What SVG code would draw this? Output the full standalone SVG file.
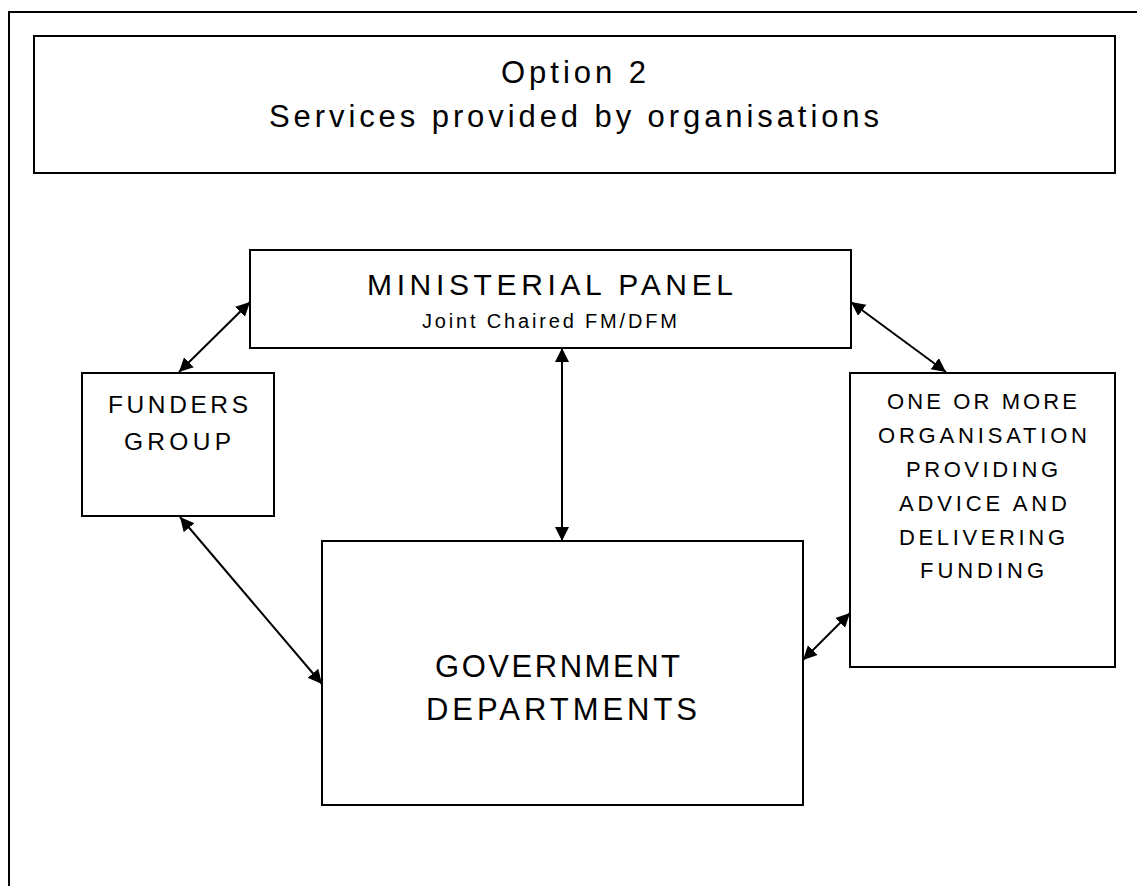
<svg xmlns="http://www.w3.org/2000/svg" width="1137" height="886" viewBox="0 0 1137 886">
<defs>
<style>
.box{fill:#fff;stroke:#000;stroke-width:2}
.t{font-family:"Liberation Sans",Arial,sans-serif;fill:#000;text-anchor:start}
.conn{stroke:#000;stroke-width:2;fill:none;marker-start:url(#ah);marker-end:url(#ah)}
</style>
<marker id="ah" markerUnits="userSpaceOnUse" markerWidth="15" markerHeight="15" refX="14" refY="7" orient="auto-start-reverse">
<path d="M0,0 L14,7 L0,14 Z" fill="#000"/>
</marker>
</defs>
<rect width="1137" height="886" fill="#fff"/>
<rect x="9" y="12" width="1140" height="890" fill="none" stroke="#000" stroke-width="2"/>
<g id="title">
<rect class="box" x="34" y="36" width="1081" height="137"/>
<text class="t" x="501" y="83" font-size="31" textLength="145" lengthAdjust="spacing">Option 2</text>
<text class="t" x="269" y="127" font-size="31" textLength="610" lengthAdjust="spacing">Services provided by organisations</text>
</g>
<g id="connectors">
<line class="conn" x1="179" y1="372" x2="250" y2="302"/>
<line class="conn" x1="851" y1="302" x2="946" y2="372"/>
<line class="conn" x1="562" y1="348" x2="562" y2="541"/>
<line class="conn" x1="180" y1="517" x2="322" y2="684"/>
<line class="conn" x1="850" y1="613" x2="803" y2="660"/>
</g>
<g id="ministerial-panel">
<rect class="box" x="250" y="250" width="601" height="98"/>
<text class="t" x="367" y="295" font-size="30" textLength="366" lengthAdjust="spacing">MINISTERIAL PANEL</text>
<text class="t" x="422" y="328" font-size="20" textLength="255" lengthAdjust="spacing">Joint Chaired FM/DFM</text>
</g>
<g id="funders-group">
<rect class="box" x="82" y="373" width="192" height="143"/>
<text class="t" x="108" y="413" font-size="24.5" textLength="140" lengthAdjust="spacing">FUNDERS</text>
<text class="t" x="124" y="450" font-size="24.5" textLength="107" lengthAdjust="spacing">GROUP</text>
</g>
<g id="organisation">
<rect class="box" x="850" y="373" width="265" height="294"/>
<text class="t" x="887" y="409" font-size="22" textLength="190" lengthAdjust="spacing">ONE OR MORE</text>
<text class="t" x="878" y="443" font-size="22" textLength="209" lengthAdjust="spacing">ORGANISATION</text>
<text class="t" x="906" y="477" font-size="22" textLength="152" lengthAdjust="spacing">PROVIDING</text>
<text class="t" x="899" y="511" font-size="22" textLength="168" lengthAdjust="spacing">ADVICE AND</text>
<text class="t" x="899" y="545" font-size="22" textLength="166" lengthAdjust="spacing">DELIVERING</text>
<text class="t" x="920" y="578" font-size="22" textLength="124" lengthAdjust="spacing">FUNDING</text>
</g>
<g id="government-departments">
<rect class="box" x="322" y="541" width="481" height="264"/>
<text class="t" x="435" y="677" font-size="31" textLength="245" lengthAdjust="spacing">GOVERNMENT</text>
<text class="t" x="426" y="720" font-size="31" textLength="271" lengthAdjust="spacing">DEPARTMENTS</text>
</g>
</svg>
